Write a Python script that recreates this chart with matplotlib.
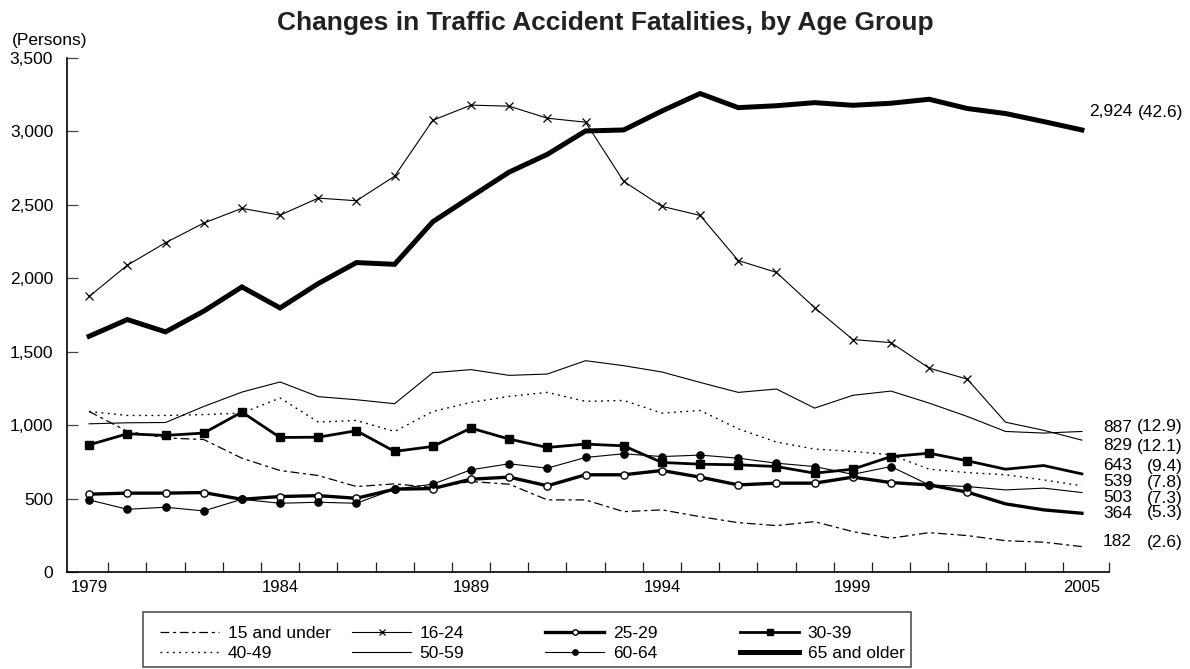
import matplotlib
matplotlib.use("Agg")
import matplotlib.pyplot as plt
from matplotlib.lines import Line2D
from matplotlib.patches import Rectangle
import numpy as np

plt.rcParams['font.family'] = ['Liberation Sans', 'DejaVu Sans']

# ---------------- data ----------------
years = list(range(1979, 2006))
under15 = [1093, 958, 913, 902, 775, 691, 657, 582, 600, 576, 616, 598, 491, 491,
           411, 423, 377, 336, 316, 343, 275, 230, 268, 248, 213, 203, 173]
age16_24 = [1876, 2089, 2242, 2376, 2476, 2430, 2546, 2528, 2695, 3076, 3179, 3172, 3090, 3063,
            2660, 2490, 2428, 2121, 2040, 1800, 1583, 1562, 1388, 1313, 1020, 965, 898]
age25_29 = [530, 537, 537, 541, 495, 514, 520, 502, 564, 568, 632, 646, 587, 662,
            662, 691, 646, 593, 605, 605, 646, 609, 593, 544, 464, 423, 400]
age30_39 = [866, 941, 930, 946, 1089, 916, 918, 962, 821, 855, 980, 905, 848, 871,
            859, 746, 734, 730, 718, 673, 700, 786, 809, 757, 700, 725, 668]
age40_49 = [1093, 1066, 1066, 1072, 1082, 1185, 1021, 1032, 957, 1093, 1155, 1196, 1223, 1162,
            1168, 1082, 1100, 975, 885, 837, 821, 798, 700, 677, 662, 627, 587]
age50_59 = [1009, 1016, 1018, 1127, 1225, 1294, 1194, 1173, 1146, 1357, 1378, 1339, 1348, 1439,
            1405, 1362, 1291, 1223, 1246, 1116, 1203, 1232, 1150, 1059, 957, 946, 957]
age60_64 = [491, 427, 441, 416, 495, 468, 475, 468, 564, 598, 696, 737, 707, 780,
            805, 786, 796, 775, 741, 718, 665, 718, 593, 582, 559, 571, 541]
age65_up = [1605, 1719, 1635, 1776, 1941, 1798, 1964, 2107, 2095, 2385, 2555, 2723, 2844, 3003,
            3010, 3139, 3258, 3162, 3175, 3196, 3178, 3192, 3219, 3156, 3122, 3067, 3010]

series_labels = ["15 and under", "16-24", "25-29", "30-39",
                 "40-49", "50-59", "60-64", "65 and older"]
end_numbers = ["2,924", "887", "829", "643", "539", "503", "364", "182"]
end_shares = ["(42.6)", "(12.9)", "(12.1)", "(9.4)", "(7.8)", "(7.3)", "(5.3)", "(2.6)"]
xtick_years = [1979, 1984, 1989, 1994, 1999, 2005]
yticks = [0, 500, 1000, 1500, 2000, 2500, 3000, 3500]

# ---------------- layout helpers ----------------
W, H = 1190, 669
def fx(px):
    return px / W
def fy(py):
    return 1 - py / H

fig = plt.figure(figsize=(W / 100, H / 100), dpi=100)
ax = fig.add_axes([fx(67), fy(572), fx(1109) - fx(67), fy(58) - fy(572)])

mk = list(range(0, 24))  # markers through 2002

styles = {
    "15 and under": dict(color='black', lw=0.9, dashes=(7, 3, 2.5, 3)),
    "16-24": dict(color='black', lw=0.8, marker='x', ms=5.5, mew=0.9),
    "25-29": dict(color='black', lw=2.4, marker='o', ms=5.2, mfc='white', mec='black', mew=1.0),
    "30-39": dict(color='black', lw=2.0, marker='s', ms=5.5, mfc='black', mec='black'),
    "40-49": dict(color='black', lw=1.0, dashes=(1.3, 3.2)),
    "50-59": dict(color='black', lw=0.8),
    "60-64": dict(color='black', lw=0.8, marker='o', ms=5.2, mfc='black', mec='black'),
    "65 and older": dict(color='black', lw=3.6),
}
data = {
    "15 and under": under15, "16-24": age16_24, "25-29": age25_29, "30-39": age30_39,
    "40-49": age40_49, "50-59": age50_59, "60-64": age60_64, "65 and older": age65_up,
}
for name in series_labels:
    st = dict(styles[name])
    kw = {}
    if 'marker' in st:
        kw['markevery'] = mk
    ax.plot(years, data[name], solid_joinstyle='miter', **st, **kw)

ax.set_xlim(1978.42, 2005.71)
ax.set_ylim(0, 3500)
for s in ['top', 'right']:
    ax.spines[s].set_visible(False)
for s in ['left', 'bottom']:
    ax.spines[s].set_linewidth(1.2)
    ax.spines[s].set_color('black')

ax.set_xticks(xtick_years)
ax.set_xticklabels([str(y) for y in xtick_years], fontsize=12)
ax.tick_params(axis='x', which='major', length=0, pad=6)
ax.set_xticks(list(np.arange(1979.5, 2005, 1.0)) + [2005.71], minor=True)
ax.tick_params(axis='x', which='minor', direction='in', length=7.5, width=0.9, color='#222')

ax.set_yticks(yticks)
ax.set_yticklabels([f"{v:,}" for v in yticks], fontsize=12.5)
ax.tick_params(axis='y', direction='in', length=8, width=0.9, color='#444', pad=10)

# title and unit
fig.text(fx(605), fy(30), "Changes in Traffic Accident Fatalities, by Age Group",
         ha='center', va='baseline', fontsize=19, fontweight='bold', color='#222')
fig.text(fx(12), fy(40), "(Persons)", ha='left', va='center', fontsize=12.5)

# end labels
label_py = [112, 427, 446, 466, 482, 498, 513, 542]
for num, share, py in zip(end_numbers, end_shares, label_py):
    fig.text(fx(1132), fy(py), num, ha='right', va='center', fontsize=12.5)
    fig.text(fx(1183), fy(py), share, ha='right', va='center', fontsize=12.5)

# legend: 4 columns with fixed positions, and an outer box
col_x = [160, 352, 545, 740]
columns = [["15 and under", "40-49"], ["16-24", "50-59"],
           ["25-29", "60-64"], ["30-39", "65 and older"]]
for cx, col in zip(col_x, columns):
    handles = []
    for name in col:
        st = dict(styles[name])
        if 'ms' in st:
            st['ms'] = st['ms'] * 0.75
        handles.append(Line2D([], [], **st))
    fig.legend(handles, col, loc='center left',
               bbox_to_anchor=(fx(cx), fy(643.5)), frameon=False,
               fontsize=12.5, handlelength=3.4, handletextpad=0.5,
               borderpad=0, borderaxespad=0, labelspacing=0.3, numpoints=1)
fig.patches.append(Rectangle((fx(143), fy(667)), fx(911) - fx(143), fy(612) - fy(667),
                             transform=fig.transFigure, fill=False,
                             edgecolor='#444', lw=1.1))

fig.savefig("out.png", dpi=100)
